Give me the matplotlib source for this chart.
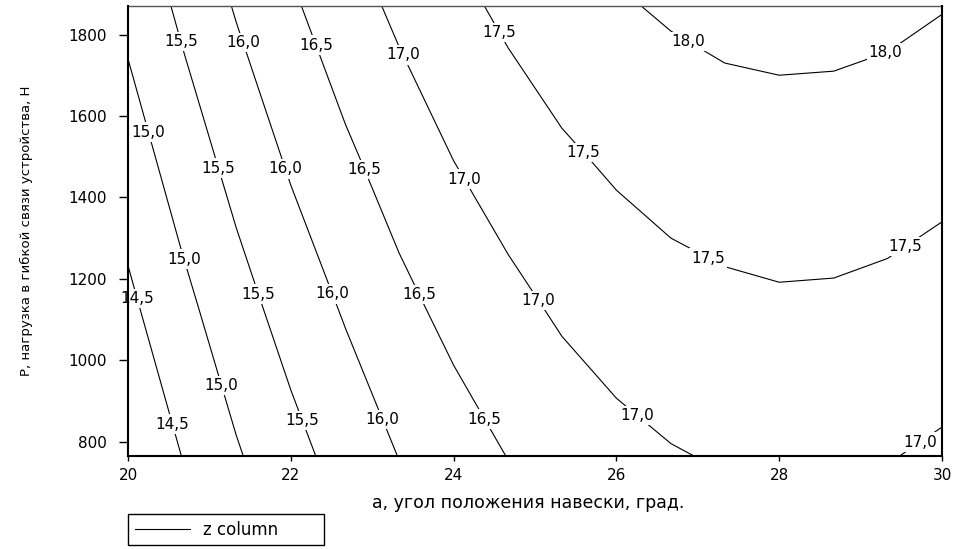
import matplotlib
matplotlib.use("Agg")
import matplotlib.pyplot as plt
from matplotlib.lines import Line2D
import numpy as np

# Grid nodes: hanging angle a (deg) and load P (N)
angle_a = [20.0, 20.67, 21.33, 22.0, 22.67, 23.33, 24.0, 24.67,
           25.33, 26.0, 26.67, 27.33, 28.0, 28.67, 29.33, 30.0]
load_p = [765, 1130, 1500, 1870]

# z response on the grid, one row per load value
z_p765 = [14.04, 14.51, 14.95, 15.34, 15.69, 16.01, 16.28, 16.51,
          16.71, 16.86, 16.97, 17.04, 17.08, 17.07, 17.02, 16.93]
z_p1130 = [14.40, 14.87, 15.31, 15.70, 16.05, 16.37, 16.64, 16.87,
           17.07, 17.22, 17.33, 17.40, 17.44, 17.43, 17.38, 17.29]
z_p1500 = [14.76, 15.24, 15.67, 16.07, 16.42, 16.73, 17.01, 17.24,
           17.43, 17.58, 17.70, 17.77, 17.80, 17.79, 17.75, 17.66]
z_p1870 = [15.13, 15.60, 16.04, 16.43, 16.79, 17.10, 17.37, 17.60,
           17.80, 17.95, 18.06, 18.14, 18.17, 18.16, 18.11, 18.02]

contour_levels = [14.5, 15.0, 15.5, 16.0, 16.5, 17.0, 17.5, 18.0]
x_ticks = [20, 22, 24, 26, 28, 30]
y_ticks = [800, 1000, 1200, 1400, 1600, 1800]
legend_label = "z column"
x_title = "a, угол положения навески, град."
y_title = "P, нагрузка в гибкой связи устройства, Н"

# where the contour labels sit
label_spots = [
    (20.12, 1153), (20.54, 843),
    (20.26, 1561), (20.68, 1248), (21.15, 939),
    (20.64, 1782), (21.11, 1472), (21.61, 1163), (22.14, 853),
    (21.41, 1780), (21.95, 1471), (22.50, 1162), (23.13, 855),
    (22.31, 1774), (22.91, 1468), (23.58, 1162), (24.41, 859),
    (23.37, 1749), (24.14, 1446), (25.04, 1147), (26.25, 864), (29.74, 796),
    (24.53, 1802), (25.58, 1507), (27.12, 1247), (29.56, 1276),
    (26.87, 1780), (29.32, 1748),
]

plt.rcParams["font.family"] = ["DejaVu Sans"]

W, H = 956, 549
fig = plt.figure(figsize=(W / 100, H / 100), dpi=100)
ax = fig.add_axes([128 / W, 1 - 456 / H, (942 - 128) / W, (456 - 6) / H])

A, P = np.meshgrid(angle_a, load_p)
Z = np.array([z_p765, z_p1130, z_p1500, z_p1870])

cs = ax.contour(A, P, Z, levels=contour_levels, colors="black",
                linewidths=0.8)


def comma_fmt(v):
    return f"{v:.1f}".replace(".", ",")


ax.clabel(cs, inline=False, fmt=comma_fmt, fontsize=11,
          manual=label_spots, colors="black")
for t in cs.labelTexts:
    t.set_rotation(0)
    t.set_clip_on(False)
    t.set_bbox(dict(facecolor="white", edgecolor="none", pad=1.5))

ax.set_xlim(20, 30)
ax.set_ylim(765, 1870)
ax.set_xticks(x_ticks)
ax.set_yticks(y_ticks)
ax.tick_params(axis="y", direction="out", length=6.5, width=1.0, pad=8.5,
               labelsize=11, colors="black")
ax.tick_params(axis="x", direction="out", length=3.6, width=1.0, pad=5,
               labelsize=11, colors="black")

for side in ("left", "bottom", "right"):
    ax.spines[side].set_linewidth(1.5)
    ax.spines[side].set_color("black")
    ax.spines[side].set_zorder(5)
ax.spines["top"].set_linewidth(1.0)
ax.spines["top"].set_color("#555555")

ax.set_xlabel(x_title, fontsize=12.5)
ax.set_ylabel(y_title, fontsize=9.5)
ax.xaxis.set_label_coords(0.492, -0.084)
ax.yaxis.set_label_coords(-0.117, 0.5)

fig.legend(handles=[Line2D([], [], color="black", lw=0.8)],
           labels=[legend_label], loc="upper left",
           bbox_to_anchor=(128 / W, 1 - 547 / H, 196 / W, 33 / H),
           mode="expand", borderaxespad=0, fancybox=False,
           edgecolor="black", framealpha=1, handlelength=3.3,
           handletextpad=0.8, fontsize=12)

fig.savefig("out.png", dpi=100)
